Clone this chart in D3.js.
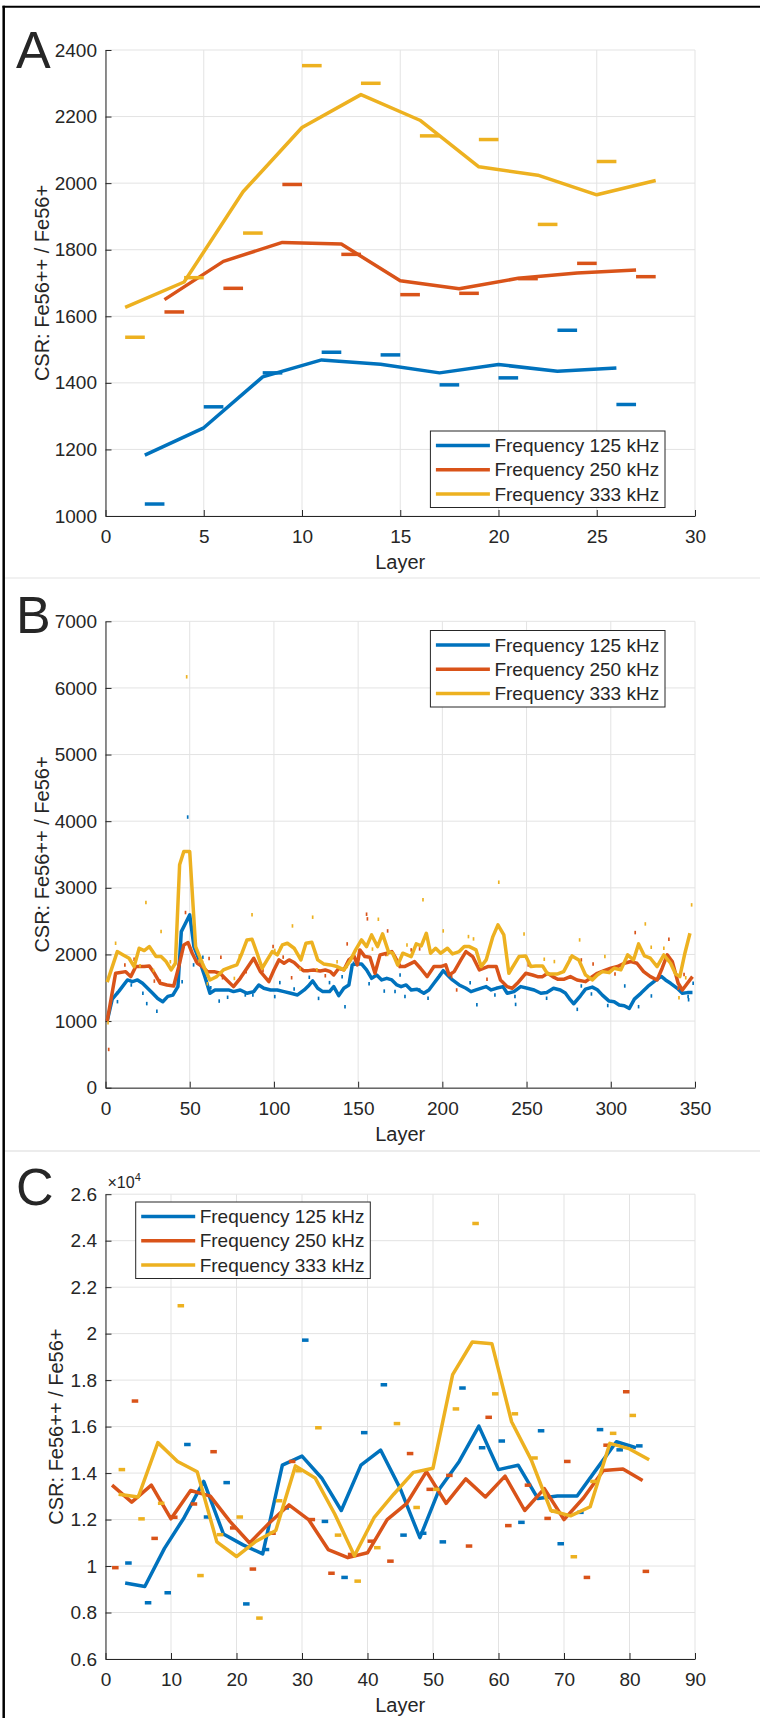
<!DOCTYPE html>
<html><head><meta charset="utf-8">
<script src="https://cdn.jsdelivr.net/npm/d3@7"></script>
<style>
body{margin:0;background:#fff}
svg{display:block}
text{font-family:"Liberation Sans",Arial,sans-serif;fill:#262626}
</style>
</head><body>
<svg id="c" width="760" height="1718"></svg>
<script>
// ---------------- Panel A data ----------------
const layersA125 = [2,5,8,11,14,17,20,23,26];
const lineA125   = [1183,1265,1418,1469,1456,1430,1455,1435,1445];
const dashA125   = [1036,1328,1430,1492,1484,1394,1415,1558,1335];
const layersA250 = [3,6,9,12,15,18,21,24,27];
const lineA250   = [1650,1765,1822,1817,1707,1683,1714,1730,1739];
const dashA250   = [1613,1684,1996,1786,1665,1669,1713,1759,1719];
const layersA333 = [1,4,7,10,13,16,19,22,25,28];
const lineA333   = [1627,1703,1974,2167,2266,2189,2049,2024,1965,2008];
const dashLayersA333 = [1,4,7,10,13,16,19,22,25];
const dashA333   = [1537,1716,1850,2353,2300,2142,2131,1876,2065];
const xTicksA = [0,5,10,15,20,25,30];
const yTicksA = [1000,1200,1400,1600,1800,2000,2200,2400];

// ---------------- Panel B data ----------------
const layersB125 = [1,4,8,13,16,19,22,25,28,31,34,37,40,43,45,47.5,50,52.5,56,59,62,65,70,73,76,80,84,88,91,94,98,102,106,110,114,118,121,123,126,129,133,135.5,138.5,141.5,144.5,146.5,149.5,152,155,158,161,164,167,170,173,175.5,178.5,181.5,185,189,192,195,198,200.5,203,206,210,214,217,220,226,229,232,236,238.5,242.5,246.5,250.5,254.5,258.5,262,266,270,273,276,278,282,285,289,292,295,299,302,305,308,311,314,318,322,326,330,332.5,335.5,339.5,342.5,345.5,348.5];
const lineB125   = [1000,1330,1450,1617,1592,1617,1567,1492,1417,1340,1290,1370,1390,1517,2343,2468,2594,2118,1893,1667,1417,1467,1467,1467,1442,1467,1417,1442,1542,1492,1467,1467,1442,1417,1392,1467,1542,1602,1492,1442,1442,1517,1382,1492,1542,1843,1858,1858,1767,1642,1692,1617,1642,1617,1542,1517,1542,1467,1477,1417,1467,1567,1667,1757,1692,1617,1542,1492,1442,1467,1517,1467,1492,1517,1417,1442,1517,1492,1467,1417,1430,1492,1467,1420,1317,1260,1380,1480,1510,1470,1390,1300,1290,1240,1230,1190,1330,1420,1520,1600,1670,1617,1567,1492,1417,1427,1427];
const layersB250 = [1,6,12,15,18,23,26,29,32.5,36.5,40.5,43.5,46.5,49,51.5,54.5,57.5,60.5,64.5,68,72,76,80,84,88,92,97,100,103,106,109,112,114.5,117.5,120.5,123.5,127.5,130.5,133.5,135.5,138.5,141.5,144.5,147.5,149.5,151,154,157,160,163,167,170,172,175,177.5,183.5,187,191,195,199,202,204,207,211,214,218,222,227,232,234.5,238.5,241.5,244.5,249.5,253.5,256.5,259.5,262.5,265.5,268.5,272,276,280,285,289,292,296,300,304,308,312,315.5,319.5,323.5,327.5,330.5,333.5,336.5,340,342.5,345.5,348.5];
const lineB250   = [1000,1717,1742,1667,1818,1818,1828,1717,1567,1542,1527,1818,2143,2178,2018,1868,1818,1742,1742,1717,1617,1517,1642,1793,1943,1742,1592,1767,1918,1868,1918,1878,1818,1757,1757,1767,1752,1767,1742,1692,1793,1767,1918,1978,1843,2068,1968,1958,1717,1993,2018,2043,1958,1818,1818,1893,1793,1667,1818,1818,1843,1692,1742,1918,2043,1968,1767,1818,1818,1617,1517,1492,1567,1717,1692,1667,1667,1717,1667,1627,1627,1667,1617,1592,1667,1717,1757,1793,1818,1868,1893,1868,1742,1667,1617,1793,1993,1893,1567,1467,1567,1667];
const layersB333 = [1,7,10.5,14,17,20,23,26,30,33,36,39,41.5,44,46.5,50,53.5,57.5,62,66,70,75,78,81,84,87,90,93,96,99,102,105,108,112,116,119,122.5,126,129.5,133.5,137.5,141.5,145.5,148.5,152,155,158,161.5,164.5,168,170.5,173.5,176.5,181.5,184.5,187.5,190.5,193,196,199,203,206,210,213,216,220,223,226,230,233,236.5,239.5,245.5,249.5,252.5,255.5,259.5,262.5,268.5,272,277,281,285,289,292,295,299,302,306,310,313.5,316.5,320,323.5,327.5,331.5,335.5,338.5,341,344,347];
const lineB333   = [1585,2043,1993,1943,1817,2093,2058,2118,1968,1968,1893,1768,1868,3345,3545,3545,2118,1868,1617,1667,1768,1818,1843,2018,2218,2228,2018,1793,1918,2043,1993,2143,2168,2093,1918,2168,2183,1918,1858,1843,1818,1768,1918,2068,2218,2118,2293,2118,2308,2043,2018,1840,2018,1968,2158,2128,2318,2018,2093,2018,2093,2008,2043,2118,2118,2068,1818,1918,2268,2443,2293,1718,1968,1978,1818,1828,1828,1707,1707,1742,1978,1918,1692,1617,1692,1742,1727,1793,1768,1993,1918,2158,1978,1943,1818,1993,1868,1707,1667,2018,2318];
const dotLayersB125 = [6.5,6.6,14.8,21.7,24,30,45,48.3,51.8,57.3,62,67,72,82.5,87,100,103,111.5,120.5,126,132.5,140,141.7,146.7,156,165,171.4,174.4,177.3,186,191,216,220,230.7,242.6,243,261.4,279.6,282,288,297.7,307.8,316,323.6,327.6,345.4,345.7,348.4];
const dotB125       = [1417,1291,1542,1417,1262,1147,1592,4062,1843,1958,1500,1300,1357,1392,1392,1367,1577,1480,1657,1340,1577,1667,1216,1868,1560,1450,1442,1692,1367,1467,1342,1577,1245,1392,1367,1250,1342,1176,1527,1407,1233,1527,1216,1377,1843,1367,1320,1567];
const dotLayersB250 = [1.4,11,16.5,28.5,32,43,47,53,57,61,68,69,83,93,99,105,110,130,143,154.5,155,166,167,174,181,186,205,208,226,250.5,282,289,302,314,334,339.5,343];
const dotB250       = [574,1843,1928,1600,1600,1830,2629,1900,1880,1940,1958,1650,1740,1760,2118,1960,1650,1680,2158,2604,2534,2000,2353,1820,2068,2083,1667,1467,1627,1843,1918,1858,1707,2328,2228,1492,1700];
const dotLayersB333 = [1,5.5,20,23.5,28,32.5,38,47.7,55,60,76,79,86.5,100,103,110.5,115,122.5,125,137,143,158,161.5,167,178.5,188,200,215,218,233,248,260,266,275,281,296,320,323.5,331,340,344,347.5];
const dotB333       = [975,2168,1830,2779,1760,2343,1890,6167,1900,1560,1640,1980,2594,2060,2090,2428,1780,2559,1770,1890,1820,2080,2528,2000,2143,2819,2353,2268,2233,3084,2308,1928,1893,1943,2218,1968,2458,2108,2093,1350,1650,2744];
const xTicksB = [0,50,100,150,200,250,300,350];
const yTicksB = [0,1000,2000,3000,4000,5000,6000,7000];

// ---------------- Panel C data ----------------
const layersC125 = [3,6,9,12,15,18,21,24,27,30,33,36,39,42,45,48,51,54,57,60,63,66,69,72,75,78,81];
const lineC125   = [9270,9120,10760,12080,13640,11380,10910,10520,14340,14730,13790,12390,14340,14990,13330,11220,13330,14500,16020,14150,14340,12910,13010,13010,14180,15350,15090];
const dashC125   = [10130,8420,8850,15230,12110,13590,8370,10710,12500,19720,11920,9510,15740,17800,11330,11410,11040,17660,15090,15380,11880,15820,10960,12310,15870,15000,15170];
const layersC250 = [1,4,7,10,13,16,19,22,25,28,31,34,37,40,43,46,49,52,55,58,61,64,67,70,73,76,79,82];
const lineC250   = [13480,12750,13480,12030,13250,13010,11920,10990,11850,12630,12000,10710,10360,10570,12000,12700,14060,12700,13750,12970,13870,12390,13330,12000,12940,14110,14180,13680];
const dashC250   = [9930,17100,11190,12100,12670,14920,11640,9870,11410,14500,12000,9690,10500,11070,10210,14840,13300,13900,10860,16400,11740,13480,12050,14500,9510,15200,17500,9770];
const layersC333 = [2,5,8,11,14,17,20,23,26,29,32,35,38,41,44,47,50,53,56,59,62,65,68,71,74,77,80,83];
const lineC333   = [13090,12970,15310,14500,14060,11040,10410,11070,11530,14310,13790,12240,10440,12080,13090,14030,14210,18240,19640,19560,16210,14570,12390,12160,12550,15280,15040,14570];
const dashLayersC333 = [2,5,8,11,14,17,20,23,26,29,32,35,38,41,44,47,50,53,56,59,62,65,68,71,74,77,80];
const dashC333   = [14150,12030,12700,21200,9590,11350,12110,7760,12810,14100,15950,11330,9350,10790,16130,12520,13300,16760,24740,17410,16550,14650,12360,10400,13640,15710,16480];
const xTicksC = [0,10,20,30,40,50,60,70,80,90];
const yTicksC = [6000,8000,10000,12000,14000,16000,18000,20000,22000,24000,26000];

const seriesNames = ["Frequency 125 kHz","Frequency 250 kHz","Frequency 333 kHz"];
const colors = ["#0072BD","#D95319","#EDB120"];

// ---------------- drawing ----------------
const svg = d3.select("#c");
const X0 = 105.5, X1 = 695;
const zip = (a,b)=>a.map((v,i)=>[v,b[i]]);

function panel(o){
  const g = svg.append("g");
  const x = d3.scaleLinear().domain([o.xt[0], o.xt[o.xt.length-1]]).range([X0,X1]);
  const y = d3.scaleLinear().domain([o.yt[0], o.yt[o.yt.length-1]]).range([o.y1,o.y0]);
  // grid
  g.append("g").selectAll("line").data(o.xt).join("line")
    .attr("x1",d=>x(d)).attr("x2",d=>x(d)).attr("y1",o.y0).attr("y2",o.y1)
    .attr("stroke","#e3e3e3").attr("stroke-width",1);
  g.append("g").selectAll("line").data(o.yt).join("line")
    .attr("x1",X0).attr("x2",X1).attr("y1",d=>y(d)).attr("y2",d=>y(d))
    .attr("stroke","#e3e3e3").attr("stroke-width",1);
  // axes
  const ax = g.append("g").attr("transform",`translate(0,${o.y1})`)
    .call(d3.axisBottom(x).tickValues(o.xt).tickSizeInner(-6).tickSizeOuter(0).tickPadding(14).tickFormat(d3.format("d")));
  const ay = g.append("g").attr("transform",`translate(${X0},0)`)
    .call(d3.axisLeft(y).tickValues(o.yt).tickSizeInner(-6).tickSizeOuter(0).tickPadding(8.5).tickFormat(o.yf));
  [ax,ay].forEach(a=>{
    a.select(".domain").attr("stroke","#262626").attr("stroke-width",1);
    a.selectAll(".tick line").attr("stroke","#262626");
    a.selectAll("text").attr("font-size",19).attr("fill","#262626")
      .style("font-family","'Liberation Sans',Arial,sans-serif");
  });
  // series
  o.series.forEach((s,k)=>{
    const line = d3.line().x(d=>x(d[0])).y(d=>y(d[1]));
    g.append("path").datum(zip(s.lx,s.ly)).attr("d",line)
      .attr("fill","none").attr("stroke",colors[k]).attr("stroke-width",3.5)
      .attr("stroke-linejoin","round");
    g.append("g").selectAll("line").data(zip(s.dx,s.dy)).join("line")
      .attr("x1",d=>x(d[0])).attr("x2",d=>x(d[0]+1))
      .attr("y1",d=>y(d[1])).attr("y2",d=>y(d[1]))
      .attr("stroke",colors[k]).attr("stroke-width",3.5);
  });
  // labels
  g.append("text").attr("x",(X0+X1)/2).attr("y",o.y1+53).attr("text-anchor","middle")
    .attr("font-size",20).text("Layer");
  g.append("text").attr("transform",`translate(${o.ylx},${(o.y0+o.y1)/2}) rotate(-90)`)
    .attr("text-anchor","middle").attr("font-size",20).text("CSR: Fe56++ / Fe56+");
  g.append("text").attr("x",16).attr("y",o.letterY).attr("font-size",52).attr("fill","#000")
    .text(o.letter);
  // legend
  const L = o.legend;
  g.append("rect").attr("x",L.x).attr("y",L.y).attr("width",234.6).attr("height",76.5)
    .attr("fill","#fff").attr("stroke","#262626").attr("stroke-width",1);
  seriesNames.forEach((nm,k)=>{
    const ry = L.y + 14.4 + k*24.3;
    g.append("line").attr("x1",L.x+5.5).attr("x2",L.x+59.5).attr("y1",ry).attr("y2",ry)
      .attr("stroke",colors[k]).attr("stroke-width",3.5);
    g.append("text").attr("x",L.x+64).attr("y",ry+6.6).attr("font-size",19).text(nm);
  });
  return {x,y,g};
}

const fmtInt = d3.format("d");
panel({letter:"A", letterY:68, y0:50, y1:516, xt:xTicksA, yt:yTicksA, yf:fmtInt, ylx:48.5,
  legend:{x:430.4,y:431},
  series:[
    {lx:layersA125, ly:lineA125, dx:layersA125, dy:dashA125},
    {lx:layersA250, ly:lineA250, dx:layersA250, dy:dashA250},
    {lx:layersA333, ly:lineA333, dx:dashLayersA333, dy:dashA333}
  ]});

panel({letter:"B", letterY:633, y0:621.3, y1:1087.7, xt:xTicksB, yt:yTicksB, yf:fmtInt, ylx:48.5,
  legend:{x:430.4,y:630.5},
  series:[
    {lx:layersB125, ly:lineB125, dx:dotLayersB125, dy:dotB125},
    {lx:layersB250, ly:lineB250, dx:dotLayersB250, dy:dotB250},
    {lx:layersB333, ly:lineB333, dx:dotLayersB333, dy:dotB333}
  ]});

const pc = panel({letter:"C", letterY:1205, y0:1194.2, y1:1659, xt:xTicksC, yt:yTicksC,
  yf:d=>String(Math.round(d/1000)/10), ylx:63,
  legend:{x:135.7,y:1202},
  series:[
    {lx:layersC125, ly:lineC125, dx:layersC125, dy:dashC125},
    {lx:layersC250, ly:lineC250, dx:layersC250, dy:dashC250},
    {lx:layersC333, ly:lineC333, dx:dashLayersC333, dy:dashC333}
  ]});
const ex = pc.g.append("text").attr("x",107.5).attr("y",1188).attr("font-size",16).attr("fill","#404040");
ex.append("tspan").text("\u00d710");
ex.append("tspan").attr("dy",-7).attr("font-size",11).text("4");

// frame and separators
svg.append("line").attr("x1",5).attr("x2",760).attr("y1",578).attr("y2",578).attr("stroke","#ececec").attr("stroke-width",1.5);
svg.append("line").attr("x1",5).attr("x2",760).attr("y1",1151).attr("y2",1151).attr("stroke","#e6e6e6").attr("stroke-width",1.5);
svg.append("line").attr("x1",3.7).attr("x2",3.7).attr("y1",5.7).attr("y2",1718).attr("stroke","#000").attr("stroke-width",2.5);
svg.append("line").attr("x1",2.5).attr("x2",760).attr("y1",6.7).attr("y2",6.7).attr("stroke","#000").attr("stroke-width",2);
</script>
</body></html>
